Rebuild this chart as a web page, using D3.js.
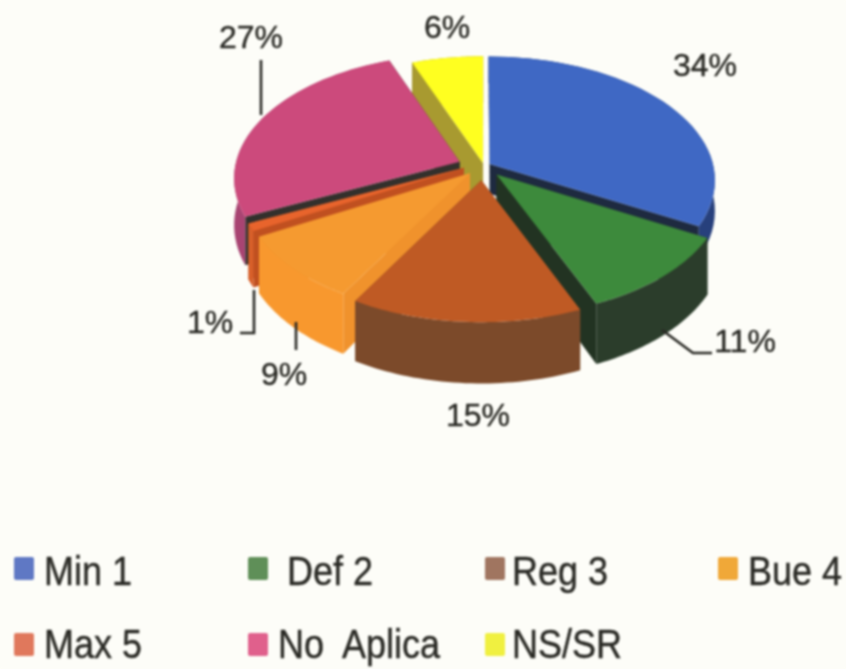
<!DOCTYPE html>
<html><head><meta charset="utf-8">
<script src="https://cdn.jsdelivr.net/npm/d3@7"></script>
<style>html,body{margin:0;padding:0;background:#fdfdf8}svg{display:block;filter:blur(0.8px)}text{font-family:"Liberation Sans",Arial,sans-serif;fill:#2a2a25;stroke:#2a2a25;stroke-width:0.4px}</style>
</head><body><svg id="c" width="846" height="669"></svg>
<script>
const categories=["Min 1","Def 2","Reg 3","Bue 4","Max 5","No  Aplica","NS/SR"];
const values=[34,11,15,9,1,27,6];
const valueLabels=["34%","11%","15%","9%","1%","27%","6%"];
const topColors=["#3f68c4","#3d8a3c","#bf5a24","#f59a30","#e8642c","#cc4a7c","#ffff20"];
const wallColors=["#27407c","#2b3d2b","#7c4a2a","#f8982e","#d8602a","#a84472","#a89a30"];
const radialColors=["#1e2a40","#223322","#7c4a2a","#f0922c","#c05020","#33302c","#a89a30"];
const legendColors=["#5f78c4","#5f8f58","#a07560","#f0a838","#e0785c","#e0608c","#f0f040"];

const svg=d3.select("#c");
const W=846,H=669;
svg.append("rect").attr("width",W).attr("height",H).attr("fill","#fdfdf8");
const cx=483,cy=172,rx=224,ry=122,k=0.129,explode=0.05;
// extruded height and extra screen shift of each exploded slice
const sliceDepth=[30,53,53,53,53,46,53];
const shiftX=[-3,6,-1,-5,-9,-13,2],shiftY=[-5,-2,2,-3,-7,-8,-3];
function proj(r,theta,mid,h,i){
  const wx=r*Math.sin(theta)+explode*Math.sin(mid), wy=r*Math.cos(theta)+explode*Math.cos(mid);
  const s=1/(1+k*wy);
  return [cx+shiftX[i]+rx*wx*s, cy+shiftY[i]-ry*wy*s+h*sliceDepth[i]*s];
}
const arcs=d3.pie().sort(null).value(d=>d)(values);
const line=d3.line();
const order=arcs.map((a,i)=>({a,i})).sort((p,q)=>{
  const dp=Math.cos((p.a.startAngle+p.a.endAngle)/2),dq=Math.cos((q.a.startAngle+q.a.endAngle)/2);
  return dq-dp;});
const g=svg.append("g");
order.forEach(({a,i})=>{
  const mid=(a.startAngle+a.endAngle)/2;
  const rim=h=>d3.range(0,41).map(t=>proj(1,a.startAngle+(a.endAngle-a.startAngle)*t/40,mid,h,i));
  const apex=h=>proj(0,0,mid,h,i);
  const top=rim(0),bot=rim(1);
  [top[0],top[40]].forEach((p,j)=>{
    const q=j?bot[40]:bot[0];
    g.append("path").attr("d",line([apex(0),p,q,apex(1)])+"Z").attr("fill",radialColors[i]);
  });
  g.append("path").attr("d",line(top.concat(bot.slice().reverse()))+"Z").attr("fill",wallColors[i]);
  g.append("path").attr("d",line([apex(0)].concat(top))+"Z").attr("fill",topColors[i]);
});
const leaders=[[[261,60],[261,115]],[[254,290],[254,333],[240,333]],[[296,322],[296,350]],[[662,330],[693,353],[712,353]]];
leaders.forEach(l=>svg.append("path").attr("d",line(l)).attr("fill","none").attr("stroke","#2a2a25").attr("stroke-width",2.6));
const labelPos=[[705,76],[745,352],[478,426],[284,385],[210,333],[251,48],[447,38]];
valueLabels.forEach((t,i)=>svg.append("text").attr("x",labelPos[i][0]).attr("y",labelPos[i][1]).attr("text-anchor","middle").attr("font-size",32).text(t));
const lx=[14,248,485,718,14,248,485],ly=[557,557,557,557,633,633,633],tx=[44,287,512,748,44,278,512],by=[585,585,585,585,658,658,658];
categories.forEach((c,i)=>{
  svg.append("rect").attr("x",lx[i]).attr("y",ly[i]).attr("width",20).attr("height",23).attr("rx",2).attr("fill",legendColors[i]);
  svg.append("text").attr("transform",`translate(${tx[i]},${by[i]}) scale(0.9,1)`).attr("font-size",40).style("white-space","pre").text(c);
});
</script></body></html>
